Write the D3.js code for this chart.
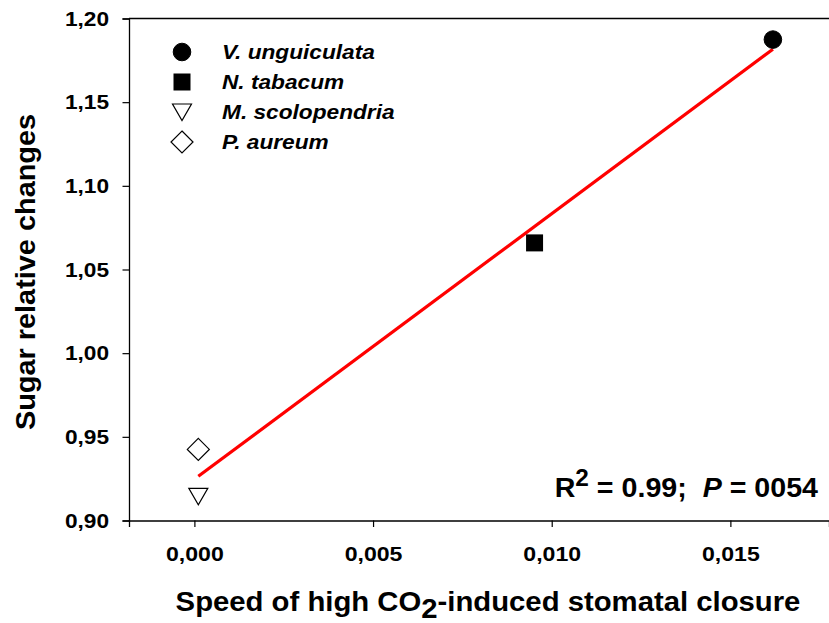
<!DOCTYPE html>
<html><head><meta charset="utf-8">
<script src="https://cdn.jsdelivr.net/npm/d3@7"></script>
<style>
html,body{margin:0;padding:0;background:#fff;}
svg{display:block;font-family:Arial,"Liberation Sans",sans-serif;}
</style></head>
<body><svg id="c" width="829" height="623"></svg>
<script>
const species = ["V. unguiculata","N. tabacum","M. scolopendria","P. aureum"];
const speedValues = [0.01619, 0.00952, 0.00011, 0.00011];
const sugarValues = [1.1874, 1.0659, 0.9144, 0.9425];
const markerShapes = ["circle","square","triangleDown","diamond"];
const markerFill = ["#000","#000","#fff","#fff"];
const xTickValues = [0, 0.005, 0.010, 0.015];
const yTickValues = [0.90, 0.95, 1.00, 1.05, 1.10, 1.15, 1.20];
const xDomain = [-0.00183, 0.01776];
const yDomain = [0.90, 1.20];
const statText = {r2: "0.99", p: "0054"};

const svg = d3.select("#c");
const L = 129, R = 829, T = 18.5, B = 520.5;
const x = d3.scaleLinear().domain(xDomain).range([L, R]);
const y = d3.scaleLinear().domain(yDomain).range([B, T]);
const comma = v => d3.format(".2f")(v).replace(".", ",");
const comma3 = v => d3.format(".3f")(v).replace(".", ",");

// horizontal stretch of a text about its anchor point
function stretch(node, f) {
  const ax = +(node.getAttribute("x") || 0), ay = +(node.getAttribute("y") || 0);
  const prev = node.getAttribute("transform") || "";
  node.setAttribute("transform", `${prev} translate(${ax},${ay}) scale(${f},1) translate(${-ax},${-ay})`);
}

// frame top line
svg.append("line").attr("x1", L).attr("x2", 829).attr("y1", T).attr("y2", T)
  .attr("stroke", "#000").attr("stroke-width", 1.3);

const yAx = svg.append("g").attr("transform", `translate(${L},0)`)
  .call(d3.axisLeft(y).tickValues(yTickValues).tickFormat(comma).tickSizeOuter(0).tickSize(6.5).tickPadding(13.5));
const xAx = svg.append("g").attr("transform", `translate(0,${B})`)
  .call(d3.axisBottom(x).tickValues(xTickValues).tickFormat(comma3).tickSizeOuter(0).tickSize(6.5).tickPadding(19.5));
[yAx, xAx].forEach(g => {
  g.select(".domain").attr("stroke", "#000").attr("stroke-width", 1.3);
  g.selectAll(".tick line").attr("stroke", "#000").attr("stroke-width", 1.2);
  g.selectAll("text").attr("fill", "#000").attr("font-size", 21).attr("font-weight", "bold")
    .attr("font-family", "Arial, 'Liberation Sans', sans-serif");
});
yAx.selectAll(".tick text").each(function(){ stretch(this, 1.08); });
xAx.selectAll(".tick text").each(function(){ stretch(this, 1.1); });

// regression line computed from the data
const n = speedValues.length;
const mx = d3.mean(speedValues), my = d3.mean(sugarValues);
let sxy = 0, sxx = 0;
for (let i = 0; i < n; i++) { sxy += (speedValues[i]-mx)*(sugarValues[i]-my); sxx += (speedValues[i]-mx)**2; }
const slope = sxy/sxx, icpt = my - slope*mx;
const x0 = d3.min(speedValues), x1 = d3.max(speedValues);
svg.append("line")
  .attr("x1", x(x0)).attr("y1", y(icpt + slope*x0))
  .attr("x2", x(x1)).attr("y2", y(icpt + slope*x1))
  .attr("stroke", "#ff0000").attr("stroke-width", 3.2);

function drawMarker(g, shape, cx, cy, fill) {
  if (shape === "circle") {
    g.append("circle").attr("cx", cx).attr("cy", cy).attr("r", 8.8).attr("fill", fill).attr("stroke", "#000").attr("stroke-width", 1);
  } else if (shape === "square") {
    g.append("rect").attr("x", cx-8.5).attr("y", cy-8.5).attr("width", 17).attr("height", 17).attr("fill", fill);
  } else if (shape === "triangleDown") {
    g.append("path").attr("d", `M${cx-9.5},${cy-8}L${cx+9.5},${cy-8}L${cx},${cy+8.5}Z`)
      .attr("fill", fill).attr("stroke", "#000").attr("stroke-width", 1.2);
  } else if (shape === "diamond") {
    g.append("path").attr("d", `M${cx},${cy-11}L${cx+11},${cy}L${cx},${cy+11}L${cx-11},${cy}Z`)
      .attr("fill", fill).attr("stroke", "#000").attr("stroke-width", 1.2);
  }
}

const pts = svg.append("g");
for (let i = 0; i < n; i++) drawMarker(pts, markerShapes[i], x(speedValues[i]), y(sugarValues[i]), markerFill[i]);

// legend
const leg = svg.append("g");
species.forEach((s, i) => {
  const cy = 52 + i*30;
  drawMarker(leg, markerShapes[i], 182, cy, markerFill[i]);
  const t = leg.append("text").attr("x", 222).attr("y", cy + 7.5).attr("font-size", 21)
    .attr("font-weight", "bold").attr("font-style", "italic").text(s);
  stretch(t.node(), 1.08);
});

// stats text
const st = svg.append("text").attr("x", 818).attr("y", 497).attr("text-anchor", "end")
  .attr("font-size", 27).attr("font-weight", "bold").attr("xml:space", "preserve");
st.append("tspan").text("R");
st.append("tspan").attr("dy", -11).attr("font-size", 23).text("2");
st.append("tspan").attr("dy", 11).text(` = ${statText.r2};\u00A0 `);
st.append("tspan").attr("font-style", "italic").text("P");
st.append("tspan").text(` = ${statText.p}`);
stretch(st.node(), 1.06);

// axis titles
const xt = svg.append("text").attr("x", 488).attr("y", 611).attr("text-anchor", "middle")
  .attr("font-size", 27).attr("font-weight", "bold");
xt.append("tspan").text("Speed of high CO");
xt.append("tspan").attr("dy", 7).text("2");
xt.append("tspan").attr("dy", -7).text("-induced stomatal closure");
stretch(xt.node(), 1.085);

const yt = svg.append("text").attr("x", 0).attr("y", 0).attr("text-anchor", "middle")
  .attr("transform", "translate(35,272) rotate(-90) scale(1.07,1)")
  .attr("font-size", 27).attr("font-weight", "bold").text("Sugar relative changes");
</script></body></html>
